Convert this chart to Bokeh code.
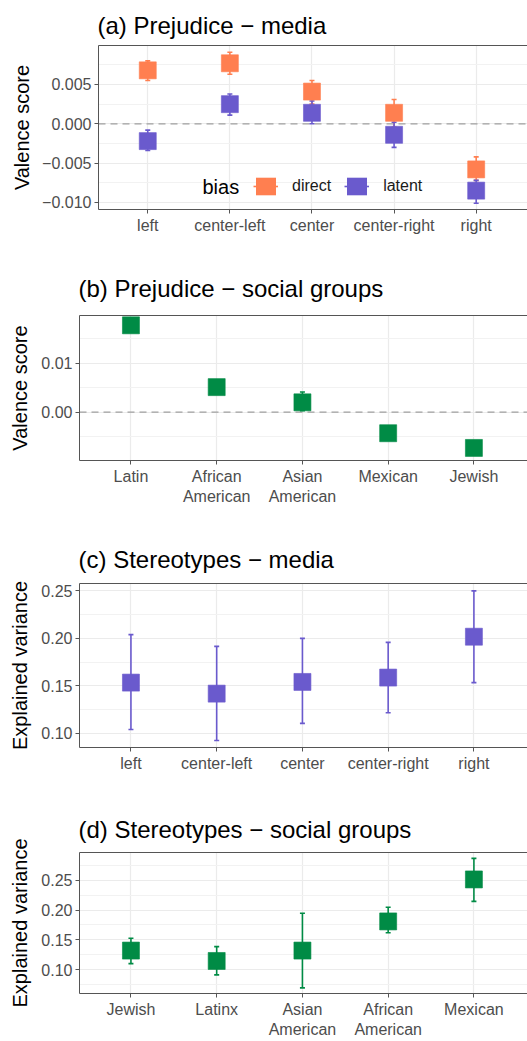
from bokeh.plotting import figure
from bokeh.models import (Range1d, FixedTicker, Whisker, TeeHead, ColumnDataSource,
                          Span, Label, Legend, LegendItem, LinearAxis)
from bokeh.embed import file_html
from bokeh.resources import INLINE

# ---------------- data ----------------
media = ["left", "center-left", "center", "center-right", "right"]
direct_val = [0.0068, 0.0077, 0.0041, 0.0014, -0.0058]
direct_lo = [0.0055, 0.0063, 0.0025, -0.0004, -0.0072]
direct_hi = [0.0080, 0.0091, 0.0055, 0.0031, -0.0042]
latent_val = [-0.0022, 0.0025, 0.0014, -0.0014, -0.0085]
latent_lo = [-0.0034, 0.0011, 0.0000, -0.0030, -0.0101]
latent_hi = [-0.0008, 0.0038, 0.0029, 0.0002, -0.0072]

groups_b = ["Latin", "African\nAmerican", "Asian\nAmerican", "Mexican", "Jewish"]
prej_val = [0.0177, 0.0051, 0.0020, -0.0043, -0.0073]
prej_lo = [0.0175, 0.0049, 0.0003, -0.0045, -0.0075]
prej_hi = [0.0179, 0.0053, 0.0041, -0.0041, -0.0071]

stm_val = [0.1535, 0.1419, 0.1542, 0.1588, 0.2018]
stm_lo = [0.1042, 0.0926, 0.1106, 0.1218, 0.1535]
stm_hi = [0.2040, 0.1916, 0.2000, 0.1958, 0.2500]

groups_d = ["Jewish", "Latinx", "Asian\nAmerican", "African\nAmerican", "Mexican"]
stg_val = [0.1320, 0.1145, 0.1320, 0.1810, 0.2516]
stg_lo = [0.1100, 0.0912, 0.0693, 0.1620, 0.2147]
stg_hi = [0.1526, 0.1386, 0.1947, 0.2049, 0.2870]

ticks_a = [-0.010, -0.005, 0.000, 0.005]
labels_a = ["\u22120.010", "\u22120.005", "0.000", "0.005"]
minor_a = [-0.0075, -0.0025, 0.0025, 0.0075]
ticks_b = [0.00, 0.01]
labels_b = ["0.00", "0.01"]
minor_b = [-0.005, 0.005, 0.015]
ticks_c = [0.10, 0.15, 0.20, 0.25]
labels_c = ["0.10", "0.15", "0.20", "0.25"]
minor_c = [0.125, 0.175, 0.225]
ticks_d = [0.10, 0.15, 0.20, 0.25]
labels_d = ["0.10", "0.15", "0.20", "0.25"]
minor_d = [0.075, 0.125, 0.175, 0.225, 0.275]

CORAL = "#FF7F50"
SLATE = "#6A5ACD"
GREEN = "#008B45"
FONT = "Liberation Sans"
W = 527


def panel(title, ylabel, cats, yr, ticks, tlabels, minor, height, top, bottom, left,
          ylabel_standoff, title_standoff, zero=False):
    xs = list(range(1, len(cats) + 1))
    p = figure(width=W, height=height, x_range=Range1d(0.4, 5.625), y_range=Range1d(*yr),
               output_backend="svg", toolbar_location=None, tools="",
               min_border_left=left, min_border_right=0, min_border_top=top,
               min_border_bottom=bottom)
    p.outline_line_color = None
    p.background_fill_color = "white"
    p.border_fill_color = "white"
    p.title.text = title
    p.title.text_font = FONT
    p.title.text_font_size = "24px"
    p.title.text_font_style = "normal"
    p.title.text_color = "#000000"
    p.title.align = "left"
    p.title.offset = -1
    p.title.standoff = title_standoff

    xa = p.xaxis[0]
    xa.ticker = FixedTicker(ticks=xs)
    xa.major_label_overrides = {x: c for x, c in zip(xs, cats)}
    ya = p.yaxis[0]
    ya.ticker = FixedTicker(ticks=ticks)
    ya.major_label_overrides = {t: l for t, l in zip(ticks, tlabels)}
    ya.axis_label = ylabel
    ya.axis_label_text_font = FONT
    ya.axis_label_text_font_size = "20px"
    ya.axis_label_text_font_style = "normal"
    ya.axis_label_text_color = "#000000"
    ya.axis_label_standoff = ylabel_standoff
    for ax in (xa, ya):
        ax.major_label_text_font = FONT
        ax.major_label_text_font_size = "16px"
        ax.major_label_text_color = "#4D4D4D"
        ax.major_label_standoff = 3
        ax.major_tick_out = 4
        ax.major_tick_in = 0
        ax.minor_tick_line_color = None
        ax.axis_line_color = "#555555"
        ax.major_tick_line_color = "#555555"
    # top border line of the panel
    top_ax = LinearAxis(ticker=FixedTicker(ticks=[]), major_label_text_font_size="0px",
                        axis_line_color="#555555", major_tick_line_color=None,
                        minor_tick_line_color=None, major_tick_out=0,
                        minor_tick_out=0, major_label_standoff=0)
    p.add_layout(top_ax, "above")

    p.xgrid.ticker = FixedTicker(ticks=xs)
    p.xgrid.grid_line_color = "#EBEBEB"
    p.xgrid.grid_line_width = 1.2
    p.ygrid.ticker = FixedTicker(ticks=ticks, minor_ticks=minor)
    p.ygrid.grid_line_color = "#EBEBEB"
    p.ygrid.grid_line_width = 1.2
    p.ygrid.minor_grid_line_color = "#F2F2F2"
    p.ygrid.minor_grid_line_width = 1
    if zero:
        p.add_layout(Span(location=0, dimension="width", line_color="#A0A0A0",
                          line_width=1.3, line_dash="7 5", level="underlay"))
    return p, xs


def series(p, xs, val, lo, hi, color):
    src = ColumnDataSource(dict(x=xs, y=val, lo=lo, hi=hi))
    p.add_layout(Whisker(source=src, base="x", upper="hi", lower="lo",
                         line_color=color, line_width=1.6, level="glyph",
                         upper_head=TeeHead(size=5, line_color=color, line_width=1.6),
                         lower_head=TeeHead(size=5, line_color=color, line_width=1.6)))
    p.scatter("x", "y", source=src, marker="square", size=17,
              fill_color=color, line_color=color, line_alpha=0.6, level="overlay")
    return src


# (a)
pa, xa = panel("(a) Prejudice \u2212 media", "Valence score", media, (-0.0109, 0.00996),
               ticks_a, labels_a, minor_a, 245, 45, 36, 98, 6, 13, zero=True)
src_direct = series(pa, xa, direct_val, direct_lo, direct_hi, CORAL)
src_latent = series(pa, xa, latent_val, latent_lo, latent_hi, SLATE)
items = []
for lab, col, src in (("direct", CORAL, src_direct), ("latent", SLATE, src_latent)):
    # zero-length helpers: invisible on the plot, only used to draw legend keys
    ln = pa.segment(x0="x", y0="y", x1="x", y1="y", source=src, line_color=col,
                    line_width=1.6)
    rc = pa.rect(x="x", y="y", width=0, height=0, source=src, fill_color=col,
                 line_color=None)
    items.append(LegendItem(label=lab, renderers=[ln, rc]))
leg = Legend(items=items, location=(155, 12), orientation="horizontal",
             glyph_width=25, glyph_height=22, label_standoff=14, spacing=13,
             label_text_font=FONT, label_text_font_size="16px", label_text_color="#1A1A1A",
             padding=0, margin=0, background_fill_alpha=0, border_line_color=None)
pa.add_layout(leg, "center")
pa.add_layout(Label(x=104, y=23, x_units="screen", y_units="screen", text="bias",
                    text_font=FONT, text_font_size="20px", text_baseline="middle",
                    text_color="#000000"))

# (b)
pb, xb = panel("(b) Prejudice \u2212 social groups", "Valence score", groups_b,
               (-0.00986, 0.0197), ticks_b, labels_b, minor_b, 280, 70, 65, 79, 7, 28,
               zero=True)
series(pb, xb, prej_val, prej_lo, prej_hi, GREEN)

# (c)
pc, xc = panel("(c) Stereotypes \u2212 media", "Explained variance", media,
               (0.0852, 0.2578), ticks_c, labels_c, minor_c, 270, 58, 48, 79, 7, 22)
series(pc, xc, stm_val, stm_lo, stm_hi, SLATE)

# (d)
pd_, xd = panel("(d) Stereotypes \u2212 social groups", "Explained variance", groups_d,
                (0.0598, 0.2969), ticks_d, labels_d, minor_d, 246, 57, 48, 79, 7, 20)
series(pd_, xd, stg_val, stg_lo, stg_hi, GREEN)

open("out.html", "w").write(file_html([pa, pb, pc, pd_], INLINE))
